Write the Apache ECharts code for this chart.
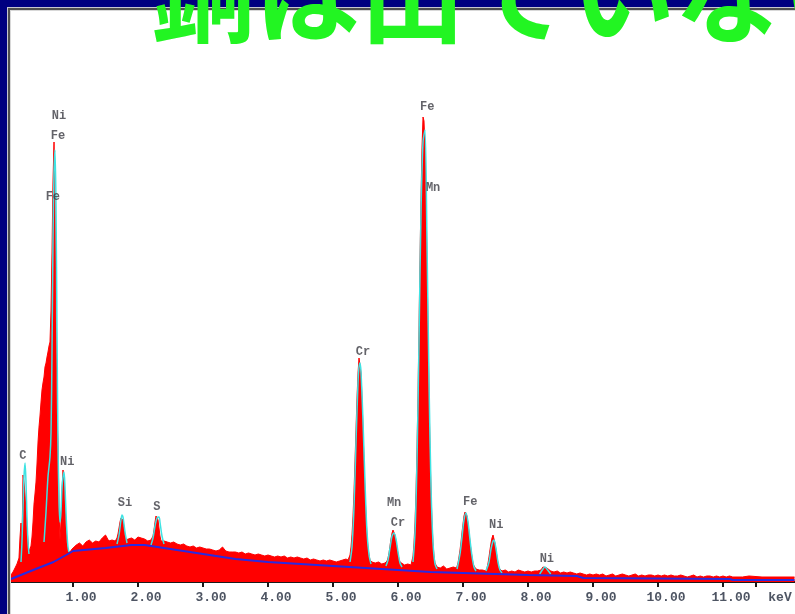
<!DOCTYPE html>
<html>
<head>
<meta charset="utf-8">
<script src="https://cdn.jsdelivr.net/npm/echarts@6/dist/echarts.min.js"></script>
<style>
html,body{margin:0;padding:0;background:#ffffff;}
#chart{width:795px;height:614px;}
</style>
</head>
<body>
<div id="chart"></div>
<script>
// ---- Data (energy in keV, intensity in counts-like units) ----
const titleText = '銅は出ていない';
const tickLabels = ['1.00','2.00','3.00','4.00','5.00','6.00','7.00','8.00','9.00','10.00','11.00'];
const unitLabel = 'keV';

const redSpectrum = [
[0.046,7],[0.077,10],[0.108,14],[0.138,18],[0.169,24],[0.185,45],[0.200,59],[0.215,38],[0.231,107],[0.246,100],
[0.262,88],[0.277,70],[0.292,55],[0.308,40],[0.323,30],[0.338,33],[0.354,36],[0.369,45],[0.385,60],[0.400,78],
[0.415,88],[0.431,100],[0.446,118],[0.462,140],[0.477,155],[0.492,166],[0.508,180],[0.523,192],[0.538,199],[0.554,205],
[0.569,215],[0.585,219],[0.600,225],[0.615,230],[0.631,236],[0.646,240],[0.662,272],[0.677,330],[0.692,400],[0.708,440],
[0.723,380],[0.738,260],[0.754,165],[0.769,140],[0.785,70],[0.800,42],[0.815,60],[0.831,90],[0.846,112],[0.862,105],
[0.877,80],[0.892,55],[0.908,38],[0.923,31],[0.954,30],[0.985,33],
[1.00,34],[1.05,37],[1.10,39],[1.15,36],[1.20,40],[1.25,42],[1.30,39],[1.35,41],[1.40,40],[1.45,44],[1.50,47],[1.55,41],[1.60,42],[1.65,41],
[1.677,44],[1.692,48],[1.708,54],[1.723,60],[1.738,64],[1.754,66],[1.769,62],[1.785,54],[1.800,46],[1.815,42],
[1.85,43],[1.90,44],[1.95,42],[2.00,45],[2.05,44],[2.10,43],[2.15,41],[2.20,42],
[2.231,46],[2.246,52],[2.262,60],[2.277,66],[2.292,68],[2.308,62],[2.323,54],[2.338,46],[2.354,41],
[2.40,41],[2.45,40],[2.50,39],[2.55,40],[2.60,38],[2.65,37],[2.70,38],[2.75,36],[2.80,35],[2.85,36],[2.90,34],[2.95,35],
[3.00,34],[3.05,33],[3.10,33],[3.15,32],[3.20,31],[3.25,32],[3.30,35],[3.35,31],[3.40,30],[3.45,30],[3.50,30],[3.55,29],
[3.60,30],[3.65,28],[3.70,29],[3.75,28],[3.80,27],[3.85,28],[3.90,27],[3.95,26],
[4.00,27],[4.05,26],[4.10,25],[4.15,26],[4.20,25],[4.25,26],[4.30,24],[4.35,25],[4.40,24],[4.45,25],[4.50,24],[4.55,23],
[4.60,24],[4.65,22],[4.70,23],[4.75,22],[4.80,21],[4.85,22],[4.90,21],[4.95,22],
[5.00,21],[5.05,20],[5.10,21],[5.15,22],[5.20,23],
[5.231,22],[5.246,24],[5.262,27],[5.277,35],[5.292,47],[5.308,66],[5.323,90],[5.338,120],[5.354,153],[5.369,184],
[5.385,209],[5.400,224],[5.415,222],[5.431,209],[5.446,184],[5.462,153],[5.477,120],[5.492,90],[5.508,66],[5.523,47],
[5.538,35],[5.554,27],[5.569,22],
[5.60,20],[5.65,19],[5.70,20],[5.75,18],[5.80,19],
[5.831,21],[5.846,24],[5.862,29],[5.877,36],[5.892,43],[5.908,49],[5.923,52],[5.938,51],[5.954,47],[5.969,41],
[5.985,34],[6.000,28],[6.015,23],[6.031,20],[6.046,19],
[6.10,17],[6.15,18],[6.20,17],
[6.215,19],[6.231,26],[6.246,39],[6.262,60],[6.277,90],[6.292,133],[6.308,188],[6.323,253],[6.338,321],[6.354,385],
[6.369,434],[6.385,465],[6.400,461],[6.415,434],[6.431,385],[6.446,321],[6.462,253],[6.477,188],[6.492,133],[6.508,90],
[6.523,60],[6.538,39],[6.554,26],[6.569,19],
[6.60,15],[6.65,14],[6.70,16],[6.75,13],[6.80,14],[6.85,15],[6.90,14],
[6.923,19],[6.938,25],[6.954,32],[6.969,40],[6.985,50],[7.000,58],[7.015,66],[7.031,70],[7.046,69],[7.062,66],
[7.077,58],[7.092,50],[7.108,40],[7.123,32],[7.138,25],[7.154,19],[7.169,16],
[7.20,13],[7.25,12],[7.30,12],[7.35,11],
[7.369,14],[7.385,19],[7.400,25],[7.415,32],[7.431,39],[7.446,44],[7.462,47],[7.477,45],[7.492,39],[7.508,32],
[7.523,25],[7.538,19],[7.554,14],[7.569,12],
[7.60,11],[7.65,12],[7.70,10],[7.75,11],[7.80,10],[7.85,12],[7.90,11],[7.95,10],[8.00,11],[8.05,10],[8.10,11],[8.15,11],
[8.20,12],[8.23,15],[8.26,16],[8.29,14],[8.32,12],[8.35,11],
[8.40,10],[8.45,11],[8.50,9],[8.55,10],[8.60,9],[8.65,10],[8.70,9],[8.75,8],[8.80,9],[8.85,8],[8.90,7],[8.95,8],
[9.00,7],[9.05,8],[9.10,7],[9.15,8],[9.20,6],[9.25,7],[9.30,8],[9.35,6],[9.40,7],[9.45,8],[9.50,7],[9.55,6],
[9.60,7],[9.65,8],[9.70,6],[9.75,7],[9.80,6],[9.85,7],[9.90,7],[9.95,6],
[10.00,7],[10.05,6],[10.10,7],[10.15,6],[10.20,7],[10.25,6],[10.30,6],[10.35,7],[10.40,6],[10.45,5],[10.50,6],[10.55,7],
[10.60,5],[10.65,6],[10.70,5],[10.75,6],[10.80,6],[10.85,5],[10.90,6],[10.95,5],
[11.00,6],[11.05,5],[11.10,6],[11.15,5],[11.30,5],[11.40,6],[11.60,5],[11.80,5],[12.00,5],[12.10,5]
];

const cyanFit = [
[[0.200,20],[0.215,40],[0.231,75],[0.246,105],[0.262,119],[0.277,100],[0.292,65],[0.308,40],[0.323,28]],
[[0.554,40],[0.585,70],[0.615,105],[0.646,125],[0.662,150],[0.677,230],[0.692,340],[0.708,410],[0.723,432],[0.738,380],
 [0.754,250],[0.769,140],[0.785,80],[0.800,60],[0.815,70],[0.831,95],[0.846,105],[0.862,110],[0.877,95],[0.892,70],
 [0.908,48],[0.923,35],[0.938,30]],
[[1.677,38],[1.708,47],[1.738,62],[1.754,67],[1.769,65],[1.800,50],[1.831,39]],
[[2.200,37],[2.231,44],[2.262,56],[2.292,64],[2.323,65],[2.338,60],[2.369,46],[2.400,38]],
[[5.262,20],[5.292,35],[5.323,75],[5.354,140],[5.385,200],[5.400,215],[5.415,219],[5.431,210],[5.462,160],[5.492,100],
 [5.523,50],[5.554,27],[5.585,18]],
[[5.815,16],[5.846,22],[5.877,34],[5.908,46],[5.938,49],[5.969,43],[6.000,30],[6.031,19],[6.062,15]],
[[6.231,20],[6.262,50],[6.292,120],[6.323,240],[6.354,370],[6.385,440],[6.415,452],[6.446,340],[6.477,200],[6.508,95],
 [6.538,40],[6.569,18],[6.600,13]],
[[6.908,13],[6.954,28],[6.985,45],[7.015,62],[7.046,69],[7.077,60],[7.108,42],[7.138,26],[7.169,15],[7.200,11]],
[[7.354,11],[7.400,20],[7.431,33],[7.462,41],[7.477,42],[7.508,33],[7.538,20],[7.569,12],[7.600,9]],
[[8.18,8],[8.23,13],[8.26,15],[8.29,13],[8.35,8]]
];

const background = [
[0.046,3],[0.35,11],[0.70,20],[0.95,29],[1.00,31],[1.50,34],[1.90,37],[2.10,37],[2.40,34],[3.00,28],[3.50,23],
[4.00,20],[4.50,18],[5.00,16],[5.50,14],[6.00,12],[6.50,10],[7.00,9],[7.50,8],[8.00,7],[8.75,6],[8.85,4],
[11.10,3],[11.15,2],[12.10,2]
];

const peakNames  = ['Ni','Fe','Fe','C','Ni','Si','S','Cr','Fe','Mn','Mn','Cr','Fe','Ni','Ni'];
const peakEnergy = [0.785,0.77,0.69,0.23,0.91,1.80,2.29,5.46,6.45,6.54,5.94,6.00,7.11,7.51,8.29];
const peakLevel  = [466,446,385,126,120,79,75,230,475,394,79,59,80,57,23];

// ---- Chart ----
const chart = echarts.init(document.getElementById('chart'), null, {renderer:'canvas'});
const monoFont = '"Liberation Mono", "DejaVu Sans Mono", monospace';

const series = [
  {
    type:'line', xAxisIndex:0, yAxisIndex:0, data: redSpectrum, symbol:'none', z:2,
    lineStyle:{color:'#ff0000', width:1}, areaStyle:{color:'#ff0000', opacity:1}, silent:true
  }
];
cyanFit.forEach(seg => series.push({
  type:'line', xAxisIndex:0, yAxisIndex:0, data: seg, symbol:'none', z:3, smooth:0.3,
  lineStyle:{color:'#3fe3e3', width:1.5}, silent:true
}));
series.push({
  type:'line', xAxisIndex:0, yAxisIndex:0, data: background, symbol:'none', z:4,
  lineStyle:{color:'#2a2ae0', width:2}, silent:true
});
series.push({
  type:'scatter', xAxisIndex:0, yAxisIndex:0, z:5, symbolSize:1,
  itemStyle:{color:'rgba(0,0,0,0)'},
  data: peakNames.map((n,i)=>({name:n, value:[peakEnergy[i], peakLevel[i]]})),
  label:{show:true, position:'inside', formatter: p => p.name,
    fontFamily: monoFont, fontWeight:'bold', fontSize:12, color:'#3c3c44'},
  silent:true
});

const option = {
  animation:false,
  backgroundColor:'#ffffff',
  grid:[
    {left:8, right:0.5, top:12, bottom:32},
    {left:8, right:39.5, top:12, bottom:32}
  ],
  xAxis:[
    {type:'value', gridIndex:0, min:0, max:12.1, splitLine:{show:false},
     axisLine:{show:true, lineStyle:{color:'#1a1a1a', width:2}}, axisTick:{show:false}, axisLabel:{show:false}},
    {type:'value', gridIndex:1, min:0, max:11.5, interval:1, splitLine:{show:false},
     axisLine:{show:false},
     axisTick:{show:true, length:5, lineStyle:{color:'#1a1a1a', width:2}},
     axisLabel:{show:true, margin:9, padding:[0,0,0,16], showMinLabel:false,
       formatter: v => (v>=1 && v<=tickLabels.length) ? tickLabels[Math.round(v)-1] : '',
       fontFamily: monoFont, fontWeight:'bold', fontSize:13, color:'#4e5563'}}
  ],
  yAxis:[
    {type:'value', gridIndex:0, min:0, max:570, show:false},
    {type:'value', gridIndex:1, min:0, max:570, show:false}
  ],
  series: series,
  graphic:[
    {type:'rect', z:100, shape:{x:0,y:0,width:795,height:7}, style:{fill:'#000080'}},
    {type:'rect', z:100, shape:{x:0,y:0,width:7,height:614}, style:{fill:'#000080'}},
    {type:'rect', z:100, shape:{x:7,y:7,width:788,height:1}, style:{fill:'#c8c8d0'}},
    {type:'rect', z:100, shape:{x:7,y:7,width:1,height:607}, style:{fill:'#c8c8d0'}},
    {type:'rect', z:100, shape:{x:8,y:8,width:787,height:2}, style:{fill:'#505050'}},
    {type:'rect', z:100, shape:{x:8,y:8,width:2,height:606}, style:{fill:'#505050'}},
    {type:'rect', z:100, shape:{x:10,y:10,width:785,height:1}, style:{fill:'#d8d8d8'}},
    {type:'rect', z:100, shape:{x:10,y:10,width:1,height:604}, style:{fill:'#d8d8d8'}},
    {type:'text', z:101, x:150, y:-58, style:{text:titleText, fill:'#22f522',
      font:'bold 105px "Noto Sans CJK JP"', textAlign:'left', textVerticalAlign:'top'}},
    {type:'text', z:101, x:780, y:598, style:{text:unitLabel, fill:'#4e5563',
      font:'bold 13px ' + monoFont, textAlign:'center', textVerticalAlign:'middle'}}
  ]
};
chart.setOption(option);
</script>
</body>
</html>
